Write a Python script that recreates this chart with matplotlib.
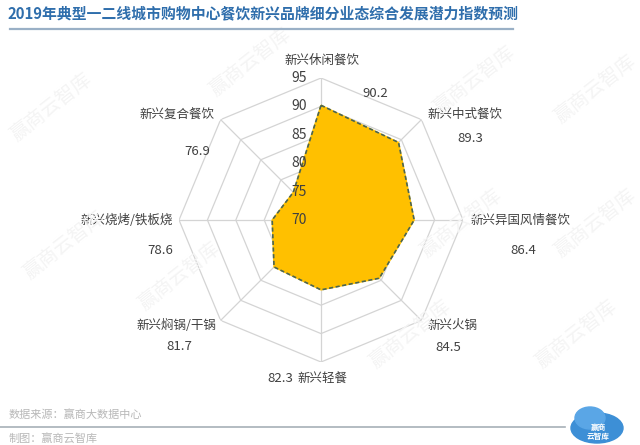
import matplotlib

matplotlib.use("Agg")

import matplotlib.pyplot as plt
import numpy as np
from matplotlib.lines import Line2D
from matplotlib.patches import Ellipse

plt.rcParams["font.family"] = ["Noto Sans CJK SC", "DejaVu Sans"]

TITLE = "2019年典型一二线城市购物中心餐饮新兴品牌细分业态综合发展潜力指数预测"
categories = [
    "新兴休闲餐饮", "新兴中式餐饮", "新兴异国风情餐饮", "新兴火锅",
    "新兴轻餐", "新兴焖锅/干锅", "新兴烧烤/铁板烧", "新兴复合餐饮",
]
values = [90.2, 89.3, 86.4, 84.5, 82.3, 81.7, 78.6, 76.9]
r_ticks = [70, 75, 80, 85, 90, 95]
source_lines = ["数据来源：赢商大数据中心", "制图：赢商云智库"]

# label placement relative to each outer vertex (pixels): name offset, name ha, value offset
name_offsets = [(1, 18, "center"), (6, 5, "left"), (7, 0, "left"), (6, -5, "left"),
                (-24, -16, "left"), (-4, -5, "right"), (-6, 0, "right"), (-6, 5, "right")]
value_offsets = [(54, -15, "center"), (49, -19, "center"), (60, -30, "center"), (27, -27, "center"),
                 (-28, -16, "right"), (-41, -26, "center"), (-19, -30, "center"), (-23, -32, "center")]

GRID = "#d4d4d4"
FILL = "#FFC000"
EDGE = "#4a6553"
TEXT = "#404040"

fig = plt.figure(figsize=(6.4, 4.45), dpi=100)
fig.patch.set_facecolor("white")

# faint watermarks
for x, y in [(0.39, 0.86), (0.74, 0.82), (0.93, 0.8), (0.08, 0.76), (0.72, 0.5),
             (0.93, 0.5), (0.1, 0.45), (0.28, 0.38), (0.64, 0.25), (0.9, 0.25)]:
    fig.text(x, y, "赢商云智库", fontsize=14, color="#f4f4f4", rotation=38,
             ha="center", va="center", zorder=0)

ax = fig.add_axes([0.2797, 0.1865, 0.4438, 0.6382], projection="polar")
ax.set_theta_zero_location("N")
ax.set_theta_direction(-1)
ax.set_ylim(r_ticks[0], r_ticks[-1])
ax.patch.set_alpha(0)
ax.spines["polar"].set_visible(False)
ax.grid(False)
ax.set_xticks([])
ax.set_yticks([])

n = len(categories)
theta = np.arange(n) * 2 * np.pi / n
theta_c = np.append(theta, theta[0])

for r in r_ticks[1:]:
    ax.plot(theta_c, [r] * (n + 1), color=GRID, lw=0.9, zorder=1)
for t in theta:
    ax.plot([t, t], [r_ticks[0], r_ticks[-1]], color=GRID, lw=0.9, zorder=1)

vals_c = values + values[:1]
ax.fill(theta_c, vals_c, color=FILL, zorder=2)
ax.plot(theta_c, vals_c, color=EDGE, lw=1.2, ls=(0, (2.5, 1.5)), zorder=3)

for r in r_ticks:
    ax.annotate(str(r), xy=(0, r), xytext=(-14, 0), textcoords="offset pixels",
                ha="right", va="center", fontsize=10, color=TEXT, annotation_clip=False)

for t, name, v, no, vo in zip(theta, categories, values, name_offsets, value_offsets):
    ax.annotate(name, xy=(t, r_ticks[-1]), xytext=(no[0], no[1]), textcoords="offset pixels",
                ha=no[2], va="center", fontsize=9, color=TEXT, annotation_clip=False)
    ax.annotate(f"{v:.1f}", xy=(t, r_ticks[-1]), xytext=(vo[0], vo[1]), textcoords="offset pixels",
                ha=vo[2], va="center", fontsize=9.5, color=TEXT, annotation_clip=False)

fig.text(8 / 640, 1 - 13 / 445, TITLE, fontsize=10.7, fontweight="bold", color="#2f6eac",
         ha="left", va="center")
fig.add_artist(Line2D([10 / 640, 513 / 640], [1 - 29 / 445] * 2, color="#9ab0c6", lw=1.6))

fig.text(9 / 640, 1 - 415 / 445, source_lines[0], fontsize=8, color="#b8b8b8", ha="left", va="center")
fig.add_artist(Line2D([0, 565 / 640], [1 - 427 / 445] * 2, color="#a7b0b8", lw=1.2))
fig.text(9 / 640, 1 - 439 / 445, source_lines[1], fontsize=8, color="#b8b8b8", ha="left", va="center")

# small cloud logo at the bottom right
fig.add_artist(Ellipse((597 / 640, 1 - 428 / 445), 52 / 640, 30 / 445, color="#3d8fd6", zorder=1))
fig.add_artist(Ellipse((590 / 640, 1 - 418 / 445), 30 / 640, 22 / 445, color="#5aa6e6", zorder=1))
fig.text(598 / 640, 1 - 432 / 445, "赢商\n云智库", fontsize=5.5, color="white", ha="center",
         va="center", fontweight="bold", linespacing=1.0, zorder=2)

fig.savefig("out.png", dpi=100)
